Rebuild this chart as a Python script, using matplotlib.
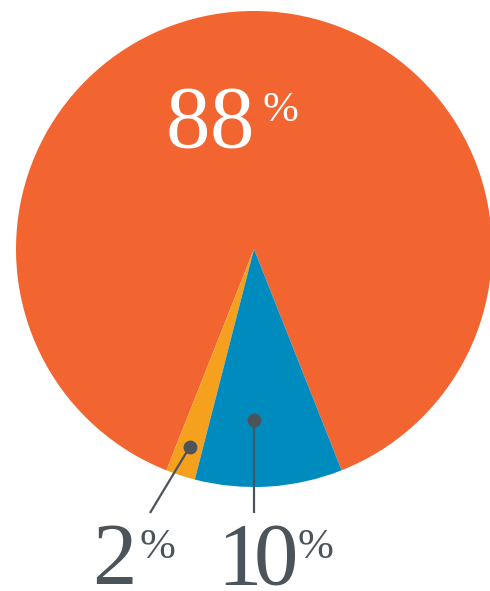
import numpy as np
import matplotlib.pyplot as plt

labels = ['88', '2', '10']
values = [88, 2, 10]
colors = ['#F26430', '#F6A11D', '#008BBF']

W, H = 490, 591
cx, cy, R = 254, 249, 238   # pie centre / radius in pixels
gray = '#4B545B'

fig = plt.figure(figsize=(W / 100, H / 100), dpi=100)
ax = fig.add_axes([0, 0, 1, 1])
wedges, _ = ax.pie(values, colors=colors, startangle=-68.4, counterclock=True,
                   wedgeprops=dict(linewidth=0))
ax.set_aspect('auto')
ax.set_xlim(-cx / R, (W - cx) / R)
ax.set_ylim(-(H - cy) / R, cy / R)
ax.axis('off')


def px(x, y):
    # pixel (top-left origin) -> data coords
    return (x - cx) / R, (cy - y) / R


# leader lines with dots
yw = wedges[1]
ang = np.deg2rad((yw.theta1 + yw.theta2) / 2)
d1 = (0.875 * np.cos(ang), 0.875 * np.sin(ang))
d2 = (0.0, -0.72)
for dot, end in [(d1, px(150, 513)), (d2, px(cx, 513))]:
    ax.plot([dot[0], end[0]], [dot[1], end[1]], color=gray, lw=1.6, solid_capstyle='butt')
    ax.plot(dot[0], dot[1], 'o', color=gray, ms=10, mec='none')

font = 'Liberation Serif'


def label(num, x_num, x_pct, y_base, color, step=44):
    # digits drawn one by one so the spacing can be tightened
    for i, ch in enumerate(num):
        fig.text((x_num + i * step) / W, 1 - y_base / H, ch, fontsize=64, family=font,
                 color=color, ha='left', va='baseline')
    fig.text(x_pct / W, 1 - (y_base - 26) / H, '%', fontsize=31, family=font,
             color=color, ha='left', va='baseline')


label(labels[0], 166, 262, 147, 'white')
label(labels[1], 92, 139, 584, gray)
label(labels[2], 217, 297, 584, gray, step=37)

fig.savefig('out.png', dpi=100)
